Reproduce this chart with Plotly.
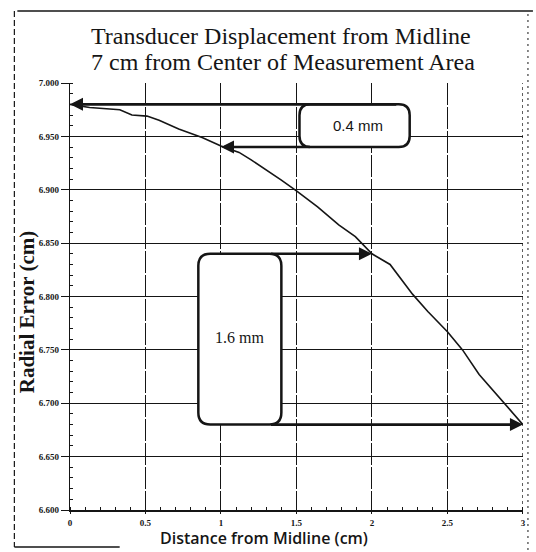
import plotly.graph_objects as go

# ---------------- data ----------------
distance_cm = [0, 0.13, 0.33, 0.41, 0.51, 0.59, 0.72, 0.875, 1.0, 1.12, 1.2, 1.32, 1.4,
               1.5, 1.64, 1.78, 1.89, 2.0, 2.12, 2.27, 2.37, 2.5, 2.6, 2.71, 2.84, 2.95, 3.0]
radial_error_cm = [6.980, 6.977, 6.975, 6.970, 6.969, 6.965, 6.957, 6.949, 6.941, 6.935,
                   6.928, 6.917, 6.909, 6.899, 6.884, 6.867, 6.856, 6.840, 6.830, 6.802,
                   6.786, 6.767, 6.750, 6.727, 6.706, 6.688, 6.680]

x_tick_vals = [0, 0.5, 1, 1.5, 2, 2.5, 3]
x_tick_text = ["0", "0.5", "1", "1.5", "2", "2.5", "3"]

# measured displacement pairs: (x at start, x at end, y start, y end)
pair_small = (0.0, 1.0, 6.980, 6.940)
pair_large = (2.0, 3.0, 6.840, 6.680)

# ---------------- layout geometry ----------------
W, H = 536, 552
L, R, T, B = 70, 10, 83, 42
PW, PH = W - L - R, H - T - B
X_RANGE = [0, 3.0005]
Y_RANGE = [6.6, 7.0]
XS = PW / (X_RANGE[1] - X_RANGE[0])   # px per x unit
YS = PH / (Y_RANGE[1] - Y_RANGE[0])   # px per y unit
INK = "#151515"


def px_x(p):
    return (p - L) / PW


def px_y(p):
    return (H - B - p) / PH


def rounded_rect(x0, x1, y0, y1, r_px):
    rx, ry = r_px / XS, r_px / YS
    return (f"M {x0+rx},{y1} L {x1-rx},{y1} Q {x1},{y1} {x1},{y1-ry} "
            f"L {x1},{y0+ry} Q {x1},{y0} {x1-rx},{y0} "
            f"L {x0+rx},{y0} Q {x0},{y0} {x0},{y0+ry} "
            f"L {x0},{y1-ry} Q {x0},{y1} {x0+rx},{y1} Z")


def arrow(head_x, head_y, tail_x, tail_y):
    return dict(x=head_x, y=head_y, ax=tail_x, ay=tail_y, xref="x", yref="y",
                axref="x", ayref="y", text="", showarrow=True, arrowhead=2,
                arrowsize=1, arrowwidth=2.6, arrowcolor=INK, standoff=0)


fig = go.Figure()
fig.add_trace(go.Scatter(x=distance_cm, y=radial_error_cm, mode="lines",
                         line=dict(color=INK, width=1.6), showlegend=False,
                         hoverinfo="skip"))

shapes = []
annotations = []

# --- box 1 (0.4 mm) ---
b1x0, b1x1 = 1.52, 2.25
xa, xb, ya, yb = pair_small
shapes.append(dict(type="path", path=rounded_rect(b1x0, b1x1, yb, ya, 11),
                   line=dict(color=INK, width=2.5), fillcolor="white", layer="above"))
annotations.append(arrow(xa, ya, b1x1 - 12 / XS, ya))
annotations.append(arrow(xb, yb, b1x0 + 12 / XS, yb))
annotations.append(dict(x=(b1x0 + b1x1) / 2 + 0.02, y=(ya + yb) / 2, xref="x", yref="y",
                        text=f"{(ya - yb) * 10:.1f} mm", showarrow=False,
                        font=dict(family="Liberation Sans", size=15, color=INK)))

# --- box 2 (1.6 mm) ---
b2x0, b2x1 = 0.85, 1.40
xa, xb, ya, yb = pair_large
shapes.append(dict(type="path", path=rounded_rect(b2x0, b2x1, yb, ya, 12),
                   line=dict(color=INK, width=2.5), fillcolor="white", layer="above"))
annotations.append(arrow(xa, ya, b2x1 - 12 / XS, ya))
annotations.append(arrow(xb, yb, b2x1 - 12 / XS, yb))
annotations.append(dict(x=(b2x0 + b2x1) / 2, y=6.762, xref="x", yref="y",
                        text=f"{(ya - yb) * 10:.1f} mm", showarrow=False,
                        font=dict(family="Liberation Serif", size=16, color=INK)))

# right edge dotted line at x = 3
shapes.append(dict(type="line", x0=3, x1=3, y0=6.6, y1=7.0, xref="x", yref="y",
                   line=dict(color=INK, width=1.2, dash="dot")))

# outer (scanned) frame
shapes += [
    dict(type="line", xref="paper", yref="paper", x0=px_x(17), x1=px_x(536),
         y0=px_y(11), y1=px_y(11), line=dict(color=INK, width=1.5)),
    dict(type="line", xref="paper", yref="paper", x0=px_x(14), x1=px_x(14),
         y0=px_y(11), y1=px_y(547), line=dict(color=INK, width=1.2, dash="6px,3px")),
    dict(type="line", xref="paper", yref="paper", x0=px_x(531), x1=px_x(531),
         y0=px_y(14), y1=px_y(550), line=dict(color=INK, width=1, dash="2px,4px")),
    dict(type="line", xref="paper", yref="paper", x0=px_x(14), x1=px_x(120),
         y0=px_y(547), y1=px_y(547), line=dict(color=INK, width=1.5)),
]

# titles
annotations += [
    dict(xref="paper", yref="paper", x=px_x(89), y=px_y(36), xanchor="left",
         yanchor="middle", showarrow=False, text="Transducer Displacement from Midline",
         font=dict(family="Liberation Serif", size=24, color=INK)),
    dict(xref="paper", yref="paper", x=px_x(89), y=px_y(62), xanchor="left",
         yanchor="middle", showarrow=False, text="7 cm from Center of Measurement Area",
         font=dict(family="Liberation Serif", size=24, color=INK)),
    dict(xref="paper", yref="paper", x=px_x(265), y=px_y(538), xanchor="center",
         yanchor="middle", showarrow=False, text="Distance from Midline (cm)",
         font=dict(family="Open Sans", size=16, color=INK, weight=600)),
    dict(xref="paper", yref="paper", x=px_x(27), y=px_y(312), xanchor="center",
         yanchor="middle", showarrow=False, text="Radial Error (cm)", textangle=-90,
         font=dict(family="Liberation Serif", size=21, color=INK, weight="bold")),
]

fig.update_layout(
    width=W, height=H, margin=dict(l=L, r=R, t=T, b=B, pad=0),
    paper_bgcolor="white", plot_bgcolor="white",
    shapes=shapes, annotations=annotations, showlegend=False,
    xaxis=dict(range=X_RANGE, tickvals=x_tick_vals, ticktext=x_tick_text,
               showgrid=True, gridcolor=INK, gridwidth=1.2, griddash="22px,2px",
               showline=True, linecolor=INK, linewidth=2.2, zeroline=False,
               ticks="outside", ticklen=2, tickcolor=INK, ticklabelstandoff=1,
               ticklabeloverflow="allow",
               minor=dict(dtick=0.1, ticks="inside", ticklen=3, tickcolor=INK, showgrid=False),
               tickfont=dict(family="Liberation Serif", size=9, color=INK, weight="bold")),
    yaxis=dict(range=Y_RANGE, dtick=0.05, tick0=6.6, tickformat=".3f",
               showgrid=True, gridcolor=INK, gridwidth=1.4,
               showline=True, linecolor=INK, linewidth=1.4, zeroline=False,
               ticks="outside", ticklen=8, tickcolor=INK,
               minor=dict(dtick=0.01, ticks="inside", ticklen=3, tickcolor=INK, showgrid=False),
               tickfont=dict(family="Liberation Serif", size=9, color=INK, weight="bold")),
)

fig.write_html("out.html", config={"displayModeBar": False},
               post_script="document.body.style.margin='0';document.body.style.overflow='hidden';")
